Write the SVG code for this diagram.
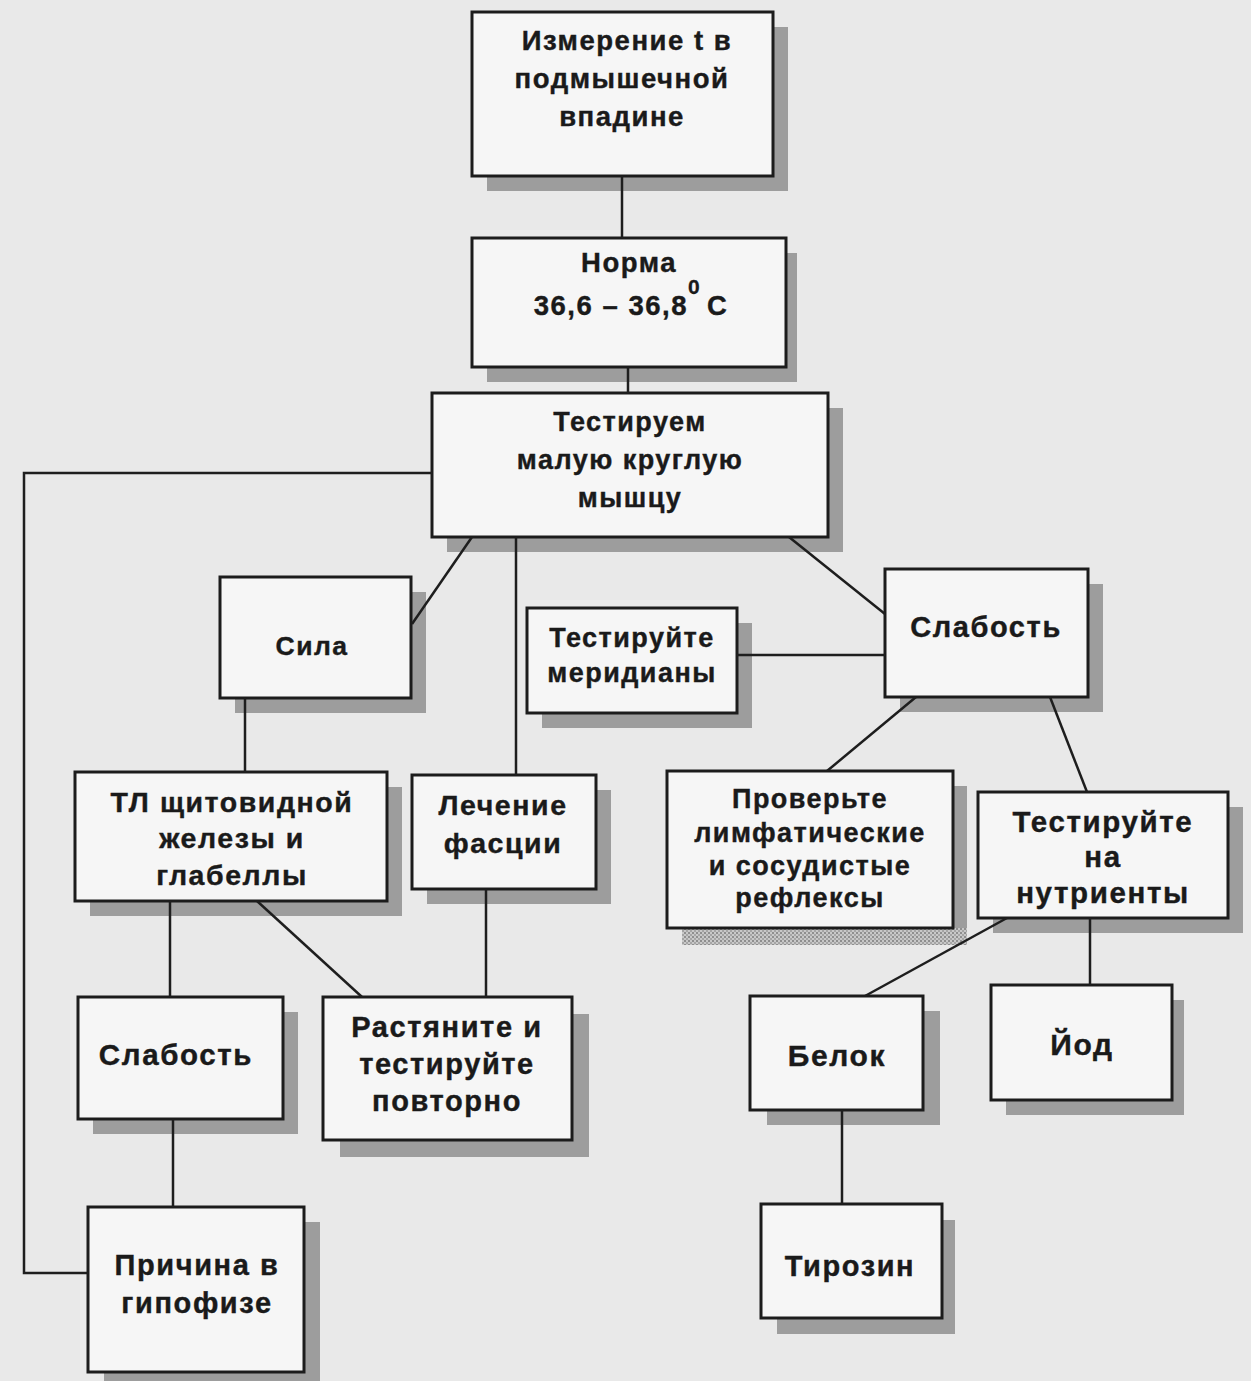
<svg xmlns="http://www.w3.org/2000/svg" width="1251" height="1381" viewBox="0 0 1251 1381">
  <defs>
    <style>
      .bg { fill: #e9e9e9; }
      .shadow { fill: #9d9d9d; }
      .box { fill: #f6f6f6; stroke: #1c1c1c; stroke-width: 3; }
      .lbl { font-family: "Liberation Sans", Arial, sans-serif; font-weight: bold; font-size: 28px; fill: #1a1a1a; stroke: #1a1a1a; stroke-width: 0.4; text-anchor: middle; letter-spacing: 0.055em; }
      .sup { font-family: "Liberation Sans", Arial, sans-serif; font-weight: bold; font-size: 21px; fill: #1a1a1a; stroke: #1a1a1a; stroke-width: 0.3; }
      .link { fill: none; stroke: #1e1e1e; stroke-width: 2.5; }
    </style>
    <pattern id="stipple" width="4" height="4" patternUnits="userSpaceOnUse">
      <rect width="4" height="4" fill="#c8c8c8"/>
      <rect width="2" height="2" fill="#8f8f8f"/>
      <rect x="2" y="2" width="2" height="2" fill="#a5a5a5"/>
    </pattern>
  </defs>

  <rect class="bg" x="0" y="0" width="1251" height="1381"/>

  <!-- nodes -->
  <g id="measure">
    <rect class="shadow" x="487" y="27" width="301" height="164"/>
    <rect class="box" x="472" y="12" width="301" height="164"/>
    <text class="lbl" x="627" y="50" style="font-size:27.5px">Измерение t в</text>
    <text class="lbl" x="622" y="88" style="font-size:27.5px">подмышечной</text>
    <text class="lbl" x="622" y="126" style="font-size:27.5px">впадине</text>
  </g>

  <g id="norm">
    <rect class="shadow" x="487" y="253" width="310" height="129"/>
    <rect class="box" x="472" y="238" width="314" height="129"/>
    <text class="lbl" x="629" y="272" style="font-size:27.5px">Норма</text>
    <text class="lbl" x="688" y="315" style="font-size:27.5px; text-anchor:end">36,6 – 36,8</text>
    <text class="sup" x="688" y="294">0</text>
    <text class="lbl" x="707" y="315" style="font-size:27.5px; text-anchor:start">C</text>
  </g>

  <g id="test-muscle">
    <rect class="shadow" x="447" y="408" width="396" height="144"/>
    <rect class="box" x="432" y="393" width="396" height="144"/>
    <text class="lbl" x="630" y="431" style="font-size:27px">Тестируем</text>
    <text class="lbl" x="630" y="469" style="font-size:27px">малую круглую</text>
    <text class="lbl" x="630" y="507" style="font-size:27px">мышцу</text>
  </g>

  <g id="strength">
    <rect class="shadow" x="235" y="592" width="191" height="121"/>
    <rect class="box" x="220" y="577" width="191" height="121"/>
    <text class="lbl" x="312" y="655" style="font-size:26.5px">Сила</text>
  </g>

  <g id="meridians">
    <rect class="shadow" x="542" y="623" width="210" height="105"/>
    <rect class="box" x="527" y="608" width="210" height="105"/>
    <text class="lbl" x="632" y="647" style="font-size:27px">Тестируйте</text>
    <text class="lbl" x="632" y="682" style="font-size:27px">меридианы</text>
  </g>

  <g id="weakness-right">
    <rect class="shadow" x="900" y="584" width="203" height="128"/>
    <rect class="box" x="885" y="569" width="203" height="128"/>
    <text class="lbl" x="986" y="637" style="font-size:29px">Слабость</text>
  </g>

  <g id="thyroid">
    <rect class="shadow" x="90" y="787" width="312" height="129"/>
    <rect class="box" x="75" y="772" width="312" height="129"/>
    <text class="lbl" x="232" y="812" style="font-size:28.5px">ТЛ щитовидной</text>
    <text class="lbl" x="232" y="848" style="font-size:28.5px">железы и</text>
    <text class="lbl" x="232" y="885" style="font-size:28.5px">глабеллы</text>
  </g>

  <g id="fascia">
    <rect class="shadow" x="427" y="790" width="184" height="114"/>
    <rect class="box" x="412" y="775" width="184" height="114"/>
    <text class="lbl" x="503" y="815" style="font-size:28.5px">Лечение</text>
    <text class="lbl" x="503" y="853" style="font-size:28.5px">фасции</text>
  </g>

  <g id="reflexes">
    <rect class="shadow" x="953" y="786" width="14" height="142"/>
    <rect x="682" y="928" width="285" height="17" fill="url(#stipple)"/>
    <rect class="box" x="667" y="771" width="286" height="157"/>
    <text class="lbl" x="810" y="808" style="font-size:27px">Проверьте</text>
    <text class="lbl" x="810" y="842" style="font-size:27px">лимфатические</text>
    <text class="lbl" x="810" y="875" style="font-size:27px">и сосудистые</text>
    <text class="lbl" x="810" y="907" style="font-size:27px">рефлексы</text>
  </g>

  <g id="nutrients">
    <rect class="shadow" x="993" y="807" width="250" height="126"/>
    <rect class="box" x="978" y="792" width="250" height="126"/>
    <text class="lbl" x="1103" y="832" style="font-size:29.5px">Тестируйте</text>
    <text class="lbl" x="1103" y="867" style="font-size:29.5px">на</text>
    <text class="lbl" x="1103" y="903" style="font-size:29.5px">нутриенты</text>
  </g>

  <g id="weakness-left">
    <rect class="shadow" x="93" y="1012" width="205" height="122"/>
    <rect class="box" x="78" y="997" width="205" height="122"/>
    <text class="lbl" x="176" y="1065" style="font-size:29.5px">Слабость</text>
  </g>

  <g id="stretch">
    <rect class="shadow" x="340" y="1014" width="249" height="143"/>
    <rect class="box" x="323" y="997" width="249" height="143"/>
    <text class="lbl" x="447" y="1037" style="font-size:29px">Растяните и</text>
    <text class="lbl" x="447" y="1074" style="font-size:29px">тестируйте</text>
    <text class="lbl" x="447" y="1111" style="font-size:29px">повторно</text>
  </g>

  <g id="pituitary">
    <rect class="shadow" x="104" y="1222" width="216" height="165"/>
    <rect class="box" x="88" y="1207" width="216" height="165"/>
    <text class="lbl" x="197" y="1275" style="font-size:29px">Причина в</text>
    <text class="lbl" x="197" y="1313" style="font-size:29px">гипофизе</text>
  </g>

  <g id="protein">
    <rect class="shadow" x="767" y="1011" width="173" height="114"/>
    <rect class="box" x="750" y="996" width="173" height="114"/>
    <text class="lbl" x="837" y="1066" style="font-size:30px">Белок</text>
  </g>

  <g id="iodine">
    <rect class="shadow" x="1006" y="1000" width="178" height="115"/>
    <rect class="box" x="991" y="985" width="181" height="115"/>
    <text class="lbl" x="1082" y="1055" style="font-size:30px">Йод</text>
  </g>

  <g id="tyrosine">
    <rect class="shadow" x="777" y="1220" width="178" height="114"/>
    <rect class="box" x="761" y="1204" width="181" height="114"/>
    <text class="lbl" x="850" y="1276" style="font-size:29px">Тирозин</text>
  </g>

  <!-- connectors, drawn over the drop shadows -->
  <g id="connectors">
    <line class="link" x1="622" y1="176" x2="622" y2="238"/>
    <line class="link" x1="628" y1="367" x2="628" y2="393"/>
    <polyline class="link" points="432,473 24,473 24,1273 88,1273"/>
    <line class="link" x1="472" y1="537" x2="412" y2="624"/>
    <line class="link" x1="516" y1="537" x2="516" y2="775"/>
    <line class="link" x1="789" y1="537" x2="885" y2="614"/>
    <line class="link" x1="737" y1="655" x2="885" y2="655"/>
    <line class="link" x1="245" y1="698" x2="245" y2="772"/>
    <line class="link" x1="916" y1="697" x2="827" y2="771"/>
    <line class="link" x1="1050" y1="697" x2="1087" y2="792"/>
    <line class="link" x1="170" y1="901" x2="170" y2="997"/>
    <line class="link" x1="257" y1="901" x2="362" y2="997"/>
    <line class="link" x1="486" y1="889" x2="486" y2="997"/>
    <line class="link" x1="173" y1="1119" x2="173" y2="1207"/>
    <line class="link" x1="1007" y1="918" x2="865" y2="996"/>
    <line class="link" x1="1090" y1="918" x2="1090" y2="985"/>
    <line class="link" x1="842" y1="1110" x2="842" y2="1204"/>
  </g>
</svg>
